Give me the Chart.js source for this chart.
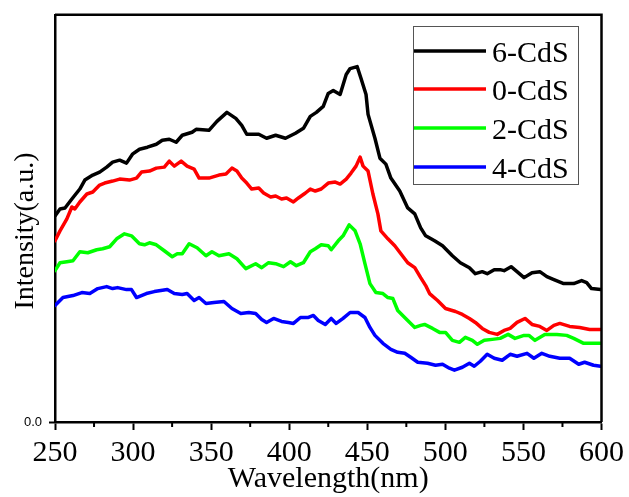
<!DOCTYPE html>
<html>
<head>
<meta charset="utf-8">
<script src="https://cdn.jsdelivr.net/npm/chart.js@4.4.1/dist/chart.umd.min.js"></script>
<style>
	body { margin:0; background:#fff; }
	canvas { display:block; }
</style>
</head>
<body>
<canvas id="plChart" width="629" height="497"></canvas>
<script>
var seriesNames = ['6-CdS', '0-CdS', '2-CdS', '4-CdS']
var seriesColors = ['#000000', '#ff0000', '#00ff00', '#0000ff']
var xTitle = 'Wavelength(nm)'
var yTitle = 'Intensity(a.u.)'
var yTickLabel = '0.0'

// 6-CdS
var wl6 = [250.0,253.2,256.4,260.8,265.9,269.1,274.2,278.6,283.1,286.9,291.4,295.8,299.6,304.1,309.2,314.9,318.7,323.2,327.6,331.5,
	337.8,340.4,348.6,353.7,360.1,365.8,369.6,372.8,376.0,380.5,385.5,391.3,397.6,404.0,409.1,413.5,417.4,421.8,425.0,428.2,
	432.6,436.5,439.0,443.5,446.0,449.2,450.5,454.9,458.1,461.9,465.1,470.8,475.9,480.4,484.2,487.4,493.1,498.2,504.5,509.6,
	515.4,519.2,523.6,526.8,531.3,535.1,537.6,542.1,545.9,550.4,555.5,560.5,565.0,569.5,575.8,582.2,587.3,590.5,593.6,599.4]
var int6 = [207,214,215,224,234,243,248,251,256,261,263,260,269,274,276,279,283,284,281,288,
	291,294,293,302,311,305,298,289,289,289,285,288,285,290,295,307,311,317,330,333,
	329,349,355,357,345,329,309,285,265,259,245,232,215,209,195,187,182,177,167,160,
	155,149,151,149,153,153,152,156,151,145,150,151,146,143,139,139,142,140,134,133]

// 0-CdS
var wl0 = [250.0,253.2,257.6,260.8,262.7,265.9,270.4,274.2,278.6,281.8,286.9,291.4,297.7,302.2,305.4,310.5,314.9,320.0,323.2,326.4,
	330.8,334.6,339.1,342.3,348.6,355.0,359.5,363.3,366.5,369.6,372.8,376.0,380.5,383.6,388.1,391.3,395.1,398.3,402.7,405.9,
	410.4,413.5,416.7,420.5,425.0,429.5,432.6,436.5,439.6,442.8,445.4,447.3,450.5,453.6,456.8,458.7,463.2,467.6,471.5,475.9,
	480.4,484.2,487.4,489.9,495.0,500.1,506.5,510.9,515.4,519.2,523.6,528.1,533.2,537.6,541.5,545.9,551.0,555.5,560.5,565.0,
	569.5,573.3,579.6,586.0,592.4,599.4]
var int0 = [182,192,204,216,214,221,229,231,238,240,242,244,243,245,251,252,255,256,262,257,
	262,257,254,245,245,248,249,255,252,245,240,234,235,230,226,227,224,225,221,225,
	230,234,232,234,240,241,239,244,250,257,266,257,252,229,209,192,184,177,169,160,
	155,145,137,129,122,114,111,108,104,100,94,90,88,92,94,100,104,98,96,92,
	97,99,96,95,93,93]

// 2-CdS
var wl2 = [250.0,253.2,257.6,261.5,265.9,271.0,276.7,280.5,285.0,289.5,294.5,299.0,304.1,307.3,310.5,314.9,320.0,325.1,328.3,331.5,
	335.9,341.0,346.7,350.5,355.0,361.4,366.5,372.2,378.5,382.4,386.8,391.3,396.4,400.8,404.6,409.1,413.5,416.7,420.5,425.0,
	426.9,431.4,434.5,438.4,442.2,445.4,448.5,451.7,455.5,460.0,463.2,466.4,469.5,474.6,480.4,484.2,486.7,491.8,496.3,500.1,
	504.5,509.0,512.8,517.3,520.5,524.9,530.0,535.1,540.2,544.6,550.4,553.5,557.4,563.7,571.4,577.7,582.2,588.6,599.4]
var int2 = [152,160,161,162,171,170,173,174,176,184,189,187,179,178,180,178,172,166,169,169,
	179,175,167,171,167,169,164,154,159,155,160,159,156,161,157,160,171,174,178,177,
	173,182,187,198,192,179,159,139,130,129,125,124,112,104,95,97,98,94,90,90,
	82,80,85,82,78,82,83,84,88,84,87,87,82,88,88,87,84,79,79]

// 4-CdS
var wl4 = [250.0,255.1,261.5,267.2,272.3,277.4,283.1,286.9,290.1,295.8,299.0,302.2,308.5,313.6,321.9,326.4,331.5,334.6,339.1,342.3,
	346.7,351.8,358.2,363.3,369.0,374.1,378.5,382.4,385.5,390.0,395.1,399.5,402.7,407.2,412.3,415.5,418.6,423.1,426.9,430.1,
	434.5,439.0,444.1,448.5,451.7,454.9,460.0,465.1,469.5,474.0,477.8,482.3,488.6,493.7,498.2,502.6,505.8,510.9,515.4,518.5,
	522.4,526.8,531.3,536.4,541.5,545.9,552.3,556.7,561.8,566.9,573.3,579.6,585.4,589.2,594.9,599.4]
var int4 = [117,125,127,130,129,134,136,134,135,133,133,125,129,131,133,129,128,129,122,125,
	119,120,121,114,109,110,109,103,100,104,101,100,99,105,105,107,102,98,104,99,
	104,110,110,105,95,87,79,73,70,69,65,60,59,57,58,54,52,55,59,56,
	61,68,64,62,68,66,69,64,69,66,64,64,58,60,57,56]

var allWl = [wl6, wl0, wl2, wl4]
var allInt = [int6, int0, int2, int4]

function makePoints( wl, val ) {
	var pts = []
	for( var i = 0; i < wl.length; i++ ) {
		pts.push({ x:wl[i], y:val[i] })
	}
	return pts
}

var serif = 'Liberation Serif'

// top/right frame, minor x ticks, axis titles, legend box
var extrasPlugin = {
	id: 'extras',
	afterDraw: function( chart ) {
		var ctx = chart.ctx
		var a = chart.chartArea
		var xs = chart.scales.x
		ctx.save()
		ctx.strokeStyle = '#000'
		ctx.lineWidth = 2.5
		ctx.beginPath()
		ctx.moveTo(a.left, a.top)
		ctx.lineTo(a.right, a.top)
		ctx.lineTo(a.right, a.bottom)
		ctx.stroke()

		// minor ticks halfway between the major ones
		ctx.lineWidth = 2
		var t = xs.ticks
		for( var i = 0; i < t.length - 1; i++ ) {
			var px = xs.getPixelForValue((t[i].value + t[i+1].value) / 2)
			ctx.beginPath()
			ctx.moveTo(px, a.bottom)
			ctx.lineTo(px, a.bottom + 5)
			ctx.stroke()
		}

		ctx.fillStyle = '#000'
		ctx.font = '30px "' + serif + '"'
		ctx.textAlign = 'center'
		ctx.textBaseline = 'alphabetic'
		ctx.fillText(xTitle, (a.left + a.right) / 2, 487)

		ctx.save()
		ctx.translate(33, 231)
		ctx.rotate(-Math.PI / 2)
		ctx.font = '28px "' + serif + '"'
		ctx.fillText(yTitle, 0, 0)
		ctx.restore()

		// legend
		ctx.fillStyle = '#fff'
		ctx.fillRect(413, 26, 165, 158)
		ctx.strokeStyle = '#555'
		ctx.lineWidth = 1
		ctx.strokeRect(413.5, 26.5, 165, 158)
		var rows = [51, 89, 128, 167]
		ctx.font = '30px "' + serif + '"'
		ctx.textAlign = 'left'
		for( var j = 0; j < chart.data.datasets.length; j++ ) {
			var ds = chart.data.datasets[j]
			ctx.strokeStyle = ds.borderColor
			ctx.lineWidth = 3.5
			ctx.beginPath()
			ctx.moveTo(414, rows[j])
			ctx.lineTo(486, rows[j])
			ctx.stroke()
			ctx.fillStyle = '#000'
			ctx.fillText(ds.label, 492, rows[j] + 10.5)
		}
		ctx.restore()
	}
}

var datasets = []
for( var k = 0; k < seriesNames.length; k++ ) {
	datasets.push({
		label: seriesNames[k],
		data: makePoints(allWl[k], allInt[k]),
		borderColor: seriesColors[k],
		backgroundColor: seriesColors[k],
		borderWidth: 3.5,
		pointRadius: 0,
		tension: 0,
		borderJoinStyle: 'round',
		borderCapStyle: 'round',
		fill: false
	})
}

var ctx = document.getElementById('plChart')
var myChart = new Chart( ctx, {
	type: 'line',
	data: { datasets: datasets },
	plugins: [extrasPlugin],
	options: {
		responsive: false,
		animation: false,
		layout: { padding: { left:0, top:13, right:24, bottom:0 } },
		plugins: { legend: { display:false }, tooltip: { enabled:false } },
		scales: {
			x: {
				type: 'linear',
				min: 250,
				max: 600,
				afterFit: function( s ) { s.height = 75 },
				ticks: {
					stepSize: 50,
					padding: 5,
					color: '#000',
					font: { family: serif, size: 30 }
				},
				grid: {
					display: true,
					drawOnChartArea: false,
					tickLength: 8,
					tickWidth: 2,
					tickColor: '#000'
				},
				border: { display:true, color:'#000', width:2.5 }
			},
			y: {
				min: 0,
				max: 409,
				afterFit: function( s ) { s.width = 55 },
				afterBuildTicks: function( s ) { s.ticks = [{ value:0 }] },
				ticks: {
					padding: 7,
					color: '#000',
					font: { family: 'Liberation Sans', size: 13 },
					callback: function() { return yTickLabel }
				},
				grid: {
					display: true,
					drawOnChartArea: false,
					tickLength: 6,
					tickWidth: 2,
					tickColor: '#000'
				},
				border: { display:true, color:'#000', width:2.5 }
			}
		}
	}
})
</script>
</body>
</html>
